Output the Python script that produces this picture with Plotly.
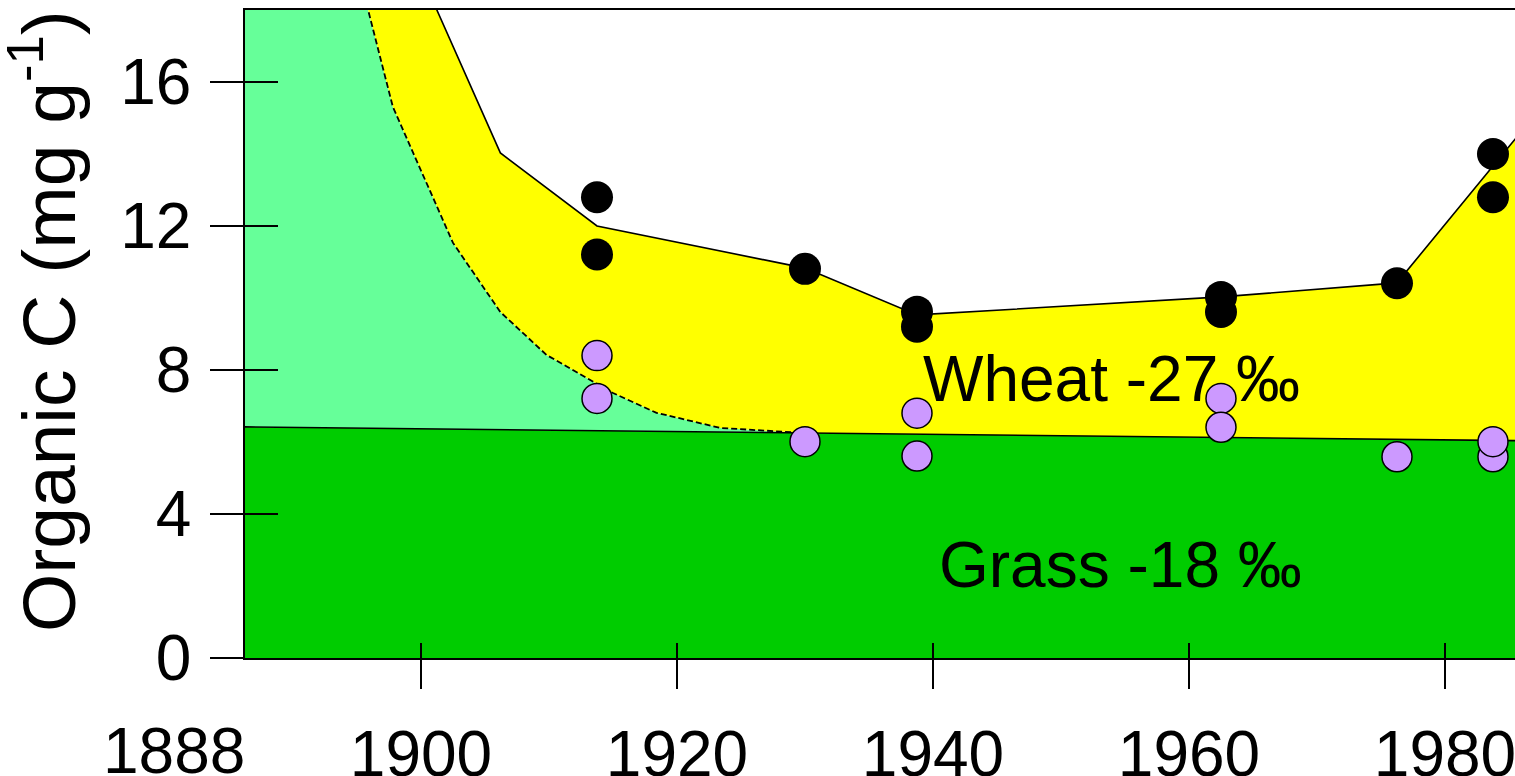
import plotly.graph_objects as go

# ---- data ----
grass_years = [1886, 1990]
grass_c = [6.42, 6.02]

old_years = [1886, 1894, 1897.8, 1902.5, 1906.2, 1909.8, 1915.0, 1918.4, 1923.4, 1930.0, 1990]
old_c = [25.0, 20.6, 15.31, 11.53, 9.61, 8.42, 7.36, 6.81, 6.39, 6.25, 6.02]

wheat_years = [1886, 1906.2, 1913.75, 1930.0, 1938.75, 1962.5, 1976.25, 1990]
wheat_c = [30.2, 14.03, 12.0, 10.83, 9.53, 10.03, 10.42, 16.37]

total_years = [1913.75, 1913.75, 1930.0, 1938.75, 1938.75, 1962.5, 1962.5, 1976.25, 1983.75, 1983.75]
total_c = [12.80, 11.21, 10.81, 9.62, 9.20, 10.03, 9.61, 10.41, 14.0, 12.80]

grassC_years = [1913.75, 1913.75, 1930.0, 1938.75, 1938.75, 1962.5, 1962.5, 1976.25, 1983.75, 1983.75]
grassC_c = [8.40, 7.21, 6.01, 6.80, 5.61, 7.21, 6.41, 5.59, 5.59, 6.01]

x_ticks = [1900, 1920, 1940, 1960, 1980]
y_ticks = [0, 4, 8, 12, 16]
x_range = [1886.25, 1985.47]
y_range = [0, 18]

FONT = "Liberation Sans, Arial, sans-serif"

fig = go.Figure()

# fills
fig.add_trace(go.Scatter(x=grass_years, y=grass_c, mode="none", fill="tozeroy",
                         fillcolor="#00CC00", hoverinfo="skip"))
fig.add_trace(go.Scatter(x=old_years, y=old_c, mode="none", fill="tonexty",
                         fillcolor="#66FF99", hoverinfo="skip"))
fig.add_trace(go.Scatter(x=wheat_years, y=wheat_c, mode="none", fill="tonexty",
                         fillcolor="#FFFF00", hoverinfo="skip"))

# lines
fig.add_trace(go.Scatter(x=grass_years, y=grass_c, mode="lines",
                         line=dict(color="black", width=1.6)))
fig.add_trace(go.Scatter(x=old_years[1:-1], y=old_c[1:-1], mode="lines",
                         line=dict(color="black", width=1.8, dash="6px,3px")))
fig.add_trace(go.Scatter(x=wheat_years, y=wheat_c, mode="lines",
                         line=dict(color="black", width=1.6)))

# points
fig.add_trace(go.Scatter(x=grassC_years, y=grassC_c, mode="markers",
                         marker=dict(size=30, color="#CC99FF",
                                     line=dict(color="black", width=1.5))))
fig.add_trace(go.Scatter(x=total_years, y=total_c, mode="markers",
                         marker=dict(size=32, color="black")))

# dummy for overlay axes (inside ticks)
fig.add_trace(go.Scatter(x=[], y=[], xaxis="x2", yaxis="y2", showlegend=False))

tickfont = dict(family=FONT, size=64, color="black")

fig.update_layout(
    width=1515, height=776,
    margin=dict(l=245, r=0, t=10, b=118, autoexpand=False),
    paper_bgcolor="white", plot_bgcolor="white",
    showlegend=False,
    xaxis=dict(range=x_range, tickvals=x_ticks, ticktext=[str(v) for v in x_ticks],
               ticks="outside", ticklen=29, tickwidth=1.5, tickcolor="black",
               showline=True, linecolor="black", linewidth=1.6, mirror=True,
               showgrid=False, zeroline=False, tickfont=tickfont,
               ticklabelstandoff=10, ticklabeloverflow="allow", automargin=False),
    yaxis=dict(range=y_range, tickvals=y_ticks, ticktext=[str(v) for v in y_ticks],
               ticks="outside", ticklen=33, tickwidth=1.5, tickcolor="black",
               showline=True, linecolor="black", linewidth=1.6,
               showgrid=False, zeroline=False, tickfont=tickfont,
               ticklabelstandoff=6, ticklabeloverflow="allow", automargin=False),
    xaxis2=dict(range=x_range, overlaying="x", anchor="y", side="bottom",
                tickvals=x_ticks, ticks="inside", ticklen=15, tickwidth=1.5,
                tickcolor="black", showticklabels=False, showgrid=False,
                zeroline=False, showline=False, automargin=False),
    yaxis2=dict(range=y_range, overlaying="y", anchor="x", side="left",
                tickvals=y_ticks, ticks="inside", ticklen=33, tickwidth=1.5,
                tickcolor="black", showticklabels=False, showgrid=False,
                zeroline=False, showline=False, automargin=False),
)

fig.add_annotation(text="Organic C (mg g<sup>-1</sup>)", textangle=-90,
                   xref="paper", yref="paper", x=-0.159, y=0.520,
                   xanchor="center", yanchor="middle", showarrow=False,
                   font=dict(family=FONT, size=75, color="black"))
fig.add_annotation(text="1888", xref="paper", yref="paper", x=0, y=0,
                   xanchor="right", yanchor="top", yshift=-55, xshift=2,
                   showarrow=False, font=tickfont)
fig.add_annotation(text="Wheat -27 ‰", x=1939.1, y=7.75, xanchor="left",
                   yanchor="middle", showarrow=False, font=tickfont)
fig.add_annotation(text="Grass -18 ‰", x=1940.3, y=2.58, xanchor="left",
                   yanchor="middle", showarrow=False, font=tickfont)

fig.write_html("out.html", config={"displayModeBar": False},
               post_script="document.body.style.margin='0';document.body.style.overflow='hidden';")
